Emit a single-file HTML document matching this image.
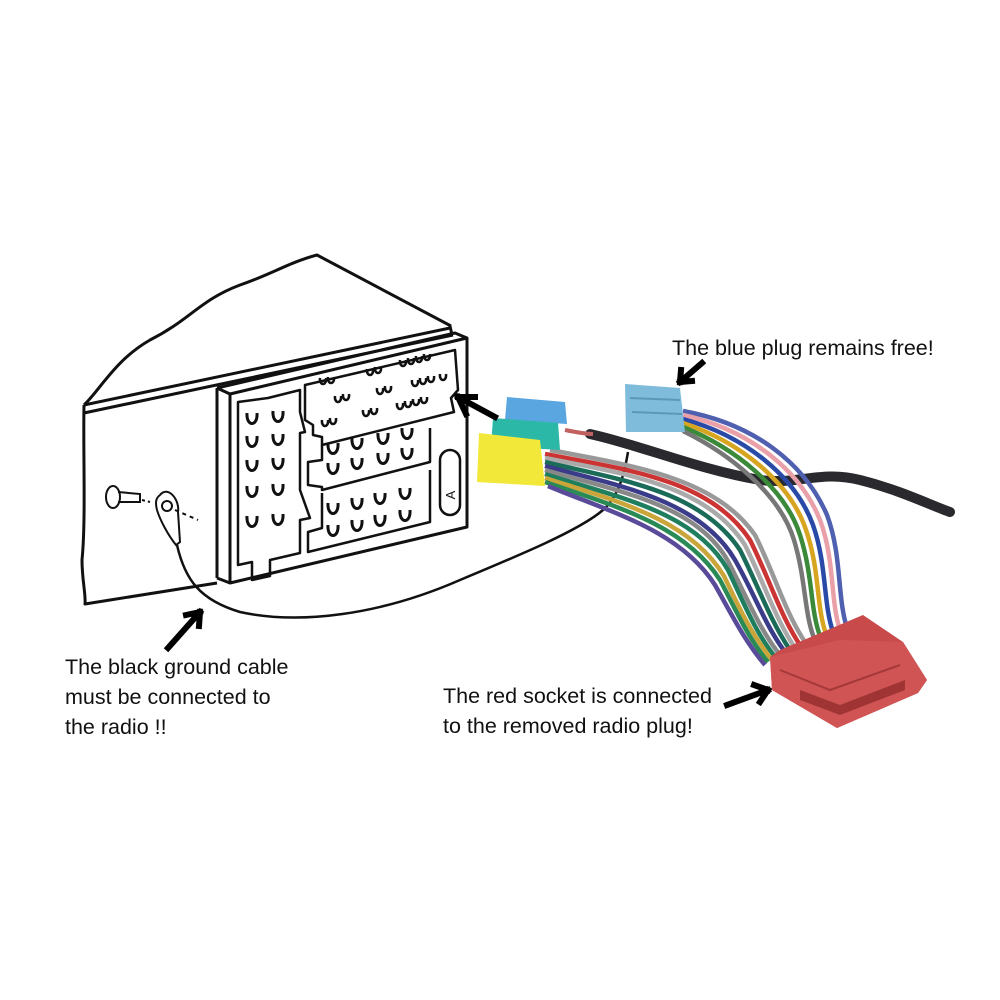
<!DOCTYPE html>
<html><head><meta charset="utf-8"><style>
html,body{margin:0;padding:0;background:#fff;width:1000px;height:1000px;overflow:hidden}
svg{display:block}
text{font-family:"Liberation Sans",sans-serif;font-size:21.5px;fill:#111}
</style></head><body>
<svg width="1000" height="1000" viewBox="0 0 1000 1000" xmlns="http://www.w3.org/2000/svg">
<defs>
<path id="u" d="M-5,-7 C-6,7 6,7 5,-7" fill="none" stroke="#111" stroke-width="3"/>
<path id="s" d="M-3,-4 C-4,4 4,4 3,-4" fill="none" stroke="#111" stroke-width="2.5"/>
</defs>
<g fill="none" stroke="#111" stroke-width="3" stroke-linejoin="round">
<path d="M84,405 C100,390 115,360 150,340 C190,320 200,300 240,285 C270,275 290,262 317,255 L451,326"/>
<path d="M84,405 C83,450 86,520 82,560 C82,580 86,595 85,604 L217,583"/>
<path d="M84,405 L450,328 M84,413 L453,335 M450,326 L452,335"/>
<path d="M217,388 L217,578 M217,388 L230,394 L467,338 L467,527 L230,583 L230,394 M217,578 L230,583 M217,388 L455,333 L467,338"/>
<path d="M238,402 L238,565 L252,562 L252,580 L270,576 L270,560 L300,553 L300,520 L310,518 L300,490 L300,433 L305,432 L300,412 L300,390 L268,398 L238,402 Z" stroke-width="2.5"/>
<path d="M305,385 L305,420 L313,425 L313,435 L322,437 L322,445 L454,412 L451,398 L458,390 L455,350 L305,385 Z" stroke-width="2.5"/>
<path d="M322,445 L322,460 L308,462 L308,485 L322,487 L322,490 L430,462 L430,428" stroke-width="2.5"/>
<path d="M322,493 L322,528 L308,532 L308,552 L430,522 L430,470" stroke-width="2.5"/>
<rect x="440" y="450" width="20" height="65" rx="10" stroke-width="2.5"/>
</g>
<text x="450" y="500" transform="rotate(-90 450 495)" style="font-size:13px" text-anchor="middle">A</text>
<g>
<use href="#u" x="252" y="420"/><use href="#u" x="278" y="418"/>
<use href="#u" x="252" y="443"/><use href="#u" x="278" y="441"/>
<use href="#u" x="252" y="467"/><use href="#u" x="278" y="465"/>
<use href="#u" x="252" y="493"/><use href="#u" x="278" y="491"/>
<use href="#u" x="252" y="523"/><use href="#u" x="278" y="521"/>
<use href="#u" x="333" y="450"/><use href="#u" x="357" y="445"/><use href="#u" x="383" y="440"/><use href="#u" x="407" y="435"/>
<use href="#u" x="333" y="470"/><use href="#u" x="357" y="465"/><use href="#u" x="383" y="460"/><use href="#u" x="407" y="455"/>
<use href="#u" x="333" y="510"/><use href="#u" x="357" y="505"/><use href="#u" x="380" y="500"/><use href="#u" x="405" y="495"/>
<use href="#u" x="333" y="532"/><use href="#u" x="357" y="527"/><use href="#u" x="380" y="522"/><use href="#u" x="405" y="517"/>
<use href="#s" x="323" y="382"/><use href="#s" x="331" y="381"/><use href="#s" x="370" y="373"/><use href="#s" x="378" y="371"/>
<use href="#s" x="403" y="364"/><use href="#s" x="411" y="362"/><use href="#s" x="419" y="360"/><use href="#s" x="427" y="358"/>
<use href="#s" x="338" y="400"/><use href="#s" x="346" y="398"/><use href="#s" x="380" y="392"/><use href="#s" x="388" y="390"/>
<use href="#s" x="415" y="384"/><use href="#s" x="423" y="382"/><use href="#s" x="431" y="380"/><use href="#s" x="443" y="378"/>
<use href="#s" x="325" y="424"/><use href="#s" x="333" y="422"/><use href="#s" x="366" y="414"/><use href="#s" x="374" y="412"/>
<use href="#s" x="400" y="407"/><use href="#s" x="408" y="405"/><use href="#s" x="416" y="403"/><use href="#s" x="424" y="401"/>
</g>
<g fill="none" stroke="#111" stroke-width="2">
<ellipse cx="113" cy="497" rx="7" ry="11"/>
<path d="M118,492 L140,494 L140,502 L118,502"/>
<path d="M142,500 L150,502" stroke-dasharray="3,3"/>
<path d="M160,495 C168,485 180,500 178,512 L180,542 L176,545 C168,535 160,520 157,510 C155,502 156,498 160,495 Z"/>
<circle cx="167" cy="506" r="5"/>
<path d="M175,510 L198,520" stroke-dasharray="4,4"/>
</g>
<path d="M177,545 C185,580 200,600 240,612 C300,625 380,615 460,580 C520,555 580,530 603,510 C620,495 625,470 628,452" fill="none" stroke="#111" stroke-width="2.5"/>
<path d="M590,434 C640,445 700,470 760,480 C800,485 820,470 860,480 C900,490 930,505 950,512" fill="none" stroke="#2a2a2e" stroke-width="10" stroke-linecap="round"/>
<g fill="none" stroke-width="4.5">
<path d="M550,450 C635,466 715,478 755,535 C775,575 785,612 805,642" stroke="#999"/>
<path d="M545,454 C630,470 710,480 750,540 C770,580 780,615 800,645" stroke="#c33"/>
<path d="M545,458 C625,474 705,484 745,545 C765,585 775,618 795,648" stroke="#aaa"/>
<path d="M545,462 C620,480 700,490 740,550 C760,590 770,620 790,650" stroke="#1a6b58"/>
<path d="M545,466 C620,486 700,500 735,560 C755,595 765,625 785,652" stroke="#3a3c8a"/>
<path d="M545,470 C620,492 700,505 730,565 C748,600 760,630 780,655" stroke="#888"/>
<path d="M545,474 C620,498 695,512 728,570 C745,605 755,632 776,658" stroke="#1f7e5e"/>
<path d="M545,478 C620,502 690,520 724,576 C740,610 752,635 772,660" stroke="#c9a53a"/>
<path d="M545,482 C615,506 685,525 720,580 C737,612 748,638 768,662" stroke="#2a8a55"/>
<path d="M548,486 C610,512 680,530 715,585 C732,615 744,640 765,665" stroke="#5a4a9a"/>
</g>
<g fill="none" stroke-width="4.5">
<path d="M683,411 C755,424 805,464 827,515 C842,555 837,597 847,628" stroke="#5060b0"/>
<path d="M683,415 C750,430 800,470 820,520 C835,560 830,600 840,630" stroke="#e9a0a8"/>
<path d="M683,419 C745,436 795,476 813,525 C827,565 823,603 833,632" stroke="#2a4aa8"/>
<path d="M683,423 C740,442 790,482 806,530 C820,570 816,606 826,634" stroke="#d8a520"/>
<path d="M683,427 C735,448 785,488 800,535 C813,575 810,609 820,636" stroke="#3a8a3a"/>
<path d="M683,431 C730,454 780,494 794,540 C806,580 804,612 814,638" stroke="#777"/>
</g>
<path d="M565,430 C575,432 585,434 593,434" stroke="#c06060" stroke-width="4" fill="none"/>
<polygon points="507,397 565,402 567,424 505,420" fill="#5aa6e0"/>
<polygon points="493,418 558,423 560,450 491,446" fill="#2cb8a6"/>
<polygon points="479,433 540,440 545,486 477,482" fill="#f2e83a"/>
<polygon points="625,384 680,388 685,432 626,432" fill="#7fbcdc"/>
<path d="M630,398 L680,400 M632,412 L682,414" stroke="#5a98b8" stroke-width="2"/>
<polygon points="780,650 863,615 903,642 927,680 918,693 837,728 772,690 770,657" fill="#c94a4a"/>
<polygon points="770,657 840,640 903,642 927,680 918,693 837,728 772,690" fill="#d05454"/>
<path d="M780,670 L830,690 L900,665" fill="none" stroke="#a53838" stroke-width="2"/>
<polygon points="800,690 840,705 905,680 905,690 840,715 800,700" fill="#a03434"/>
<g fill="none" stroke="#000" stroke-width="6" stroke-linecap="square">
<path d="M495,417 L458,397 M458,397 L466,414 M458,397 L475,397"/>
<path d="M702,363 L680,382 M680,382 L681,370 M680,382 L692,381"/>
<path d="M168,648 L200,612 M200,612 L186,615 M200,612 L199,626"/>
<path d="M727,705 L768,690 M768,690 L754,685 M768,690 L760,702"/>
</g>
<text x="672" y="355">The blue plug remains free!</text>
<text x="65" y="674">The black ground cable</text>
<text x="65" y="704">must be connected to</text>
<text x="65" y="734">the radio !!</text>
<text x="443" y="703">The red socket is connected</text>
<text x="443" y="733">to the removed radio plug!</text>
</svg>
</body></html>
